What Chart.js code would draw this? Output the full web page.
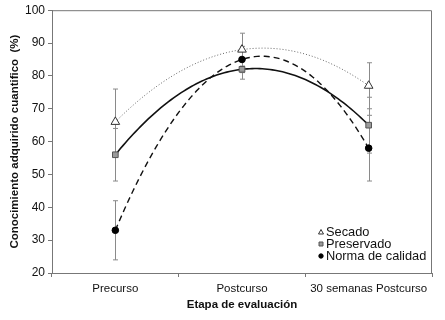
<!DOCTYPE html>
<html>
<head>
<meta charset="utf-8">
<script src="https://cdn.jsdelivr.net/npm/chart.js@4.4.1/dist/chart.umd.min.js"></script>
<style>
  html, body { margin: 0; padding: 0; background: #fff; }
  #wrap { width: 445px; height: 320px; }
</style>
</head>
<body>
<div id="wrap"><canvas id="chart" width="445" height="320"></canvas></div>
<script>
// Etapas y valores
const categories = ['Precurso', 'Postcurso', '30 semanas Postcurso'];
const yTicks = [20, 30, 40, 50, 60, 70, 80, 90, 100];

const secado = [66, 88, 77];
const secadoErr = [10, 5, 7];
const preservado = [56, 82, 65];
const preservadoErr = [8, 3, 8.5];
const norma = [33, 85, 58];
const normaErr = [9, 4, 10];

const FONT = '"Liberation Sans", Arial, sans-serif';

// error bars + quadratic trend lines through the three points
const extrasPlugin = {
    id: 'extras',
    beforeDatasetsDraw(chart) {
        const ctx = chart.ctx;
        const x = chart.scales.x;
        const y = chart.scales.y;
        ctx.save();

        // error bars
        ctx.strokeStyle = '#8a8a8a';
        ctx.lineWidth = 1;
        chart.data.datasets.forEach(ds => {
            ds.data.forEach((v, i) => {
                const e = ds.errors[i];
                const px = Math.round(x.getPixelForValue(i)) + 0.5;
                const top = y.getPixelForValue(v + e);
                const bot = y.getPixelForValue(v - e);
                ctx.beginPath();
                ctx.moveTo(px, top);
                ctx.lineTo(px, bot);
                ctx.moveTo(px - 2.5, top);
                ctx.lineTo(px + 2.5, top);
                ctx.moveTo(px - 2.5, bot);
                ctx.lineTo(px + 2.5, bot);
                ctx.stroke();
            });
        });

        // trend lines
        chart.data.datasets.forEach(ds => {
            const [a, b, c] = ds.data;
            const f = t => a * (t - 1) * (t - 2) / 2 - b * t * (t - 2) + c * t * (t - 1) / 2;
            ctx.strokeStyle = ds.trendColor;
            ctx.lineWidth = ds.trendWidth;
            ctx.setLineDash(ds.trendDash);
            ctx.beginPath();
            for (let k = 0; k <= 100; k++) {
                const t = k * 2 / 100;
                const px = x.getPixelForValue(t);
                const py = y.getPixelForValue(f(t));
                if (k === 0) ctx.moveTo(px, py); else ctx.lineTo(px, py);
            }
            ctx.stroke();
        });
        ctx.setLineDash([]);
        ctx.restore();
    },
    afterDraw(chart) {
        const ctx = chart.ctx;
        const area = chart.chartArea;
        ctx.save();
        // top and right frame
        ctx.strokeStyle = '#777';
        ctx.lineWidth = 1;
        ctx.beginPath();
        ctx.moveTo(area.left, area.top + 0.5);
        ctx.lineTo(area.right - 0.5, area.top + 0.5);
        ctx.lineTo(area.right - 0.5, area.bottom);
        ctx.stroke();

        // legend inside the plot
        let ly = 232;
        const lx = 321;
        ctx.font = '12.8px ' + FONT;
        ctx.textBaseline = 'middle';
        chart.data.datasets.forEach(ds => {
            ctx.fillStyle = ds.backgroundColor;
            ctx.strokeStyle = ds.borderColor;
            ctx.lineWidth = 1;
            ctx.beginPath();
            if (ds.pointStyle === 'triangle') {
                ctx.moveTo(lx, ly - 2.5);
                ctx.lineTo(lx + 2.5, ly + 2);
                ctx.lineTo(lx - 2.5, ly + 2);
                ctx.closePath();
            } else if (ds.pointStyle === 'rect') {
                ctx.rect(lx - 2, ly - 2, 4, 4);
            } else {
                ctx.arc(lx, ly, 2.2, 0, Math.PI * 2);
            }
            ctx.fill();
            ctx.stroke();
            ctx.fillStyle = '#111';
            ctx.fillText(ds.label, lx + 5, ly + 0.5);
            ly += 12;
        });
        ctx.restore();
    }
};

new Chart(document.getElementById('chart'), {
    type: 'line',
    data: {
        labels: categories,
        datasets: [
            {
                label: 'Secado',
                data: secado,
                errors: secadoErr,
                showLine: false,
                pointStyle: 'triangle',
                pointRadius: 5,
                backgroundColor: '#ffffff',
                borderColor: '#333333',
                borderWidth: 1,
                trendColor: '#666666',
                trendWidth: 1,
                trendDash: [1, 2]
            },
            {
                label: 'Preservado',
                data: preservado,
                errors: preservadoErr,
                showLine: false,
                pointStyle: 'rect',
                pointRadius: 4,
                backgroundColor: '#9a9a9a',
                borderColor: '#555555',
                borderWidth: 1,
                trendColor: '#111111',
                trendWidth: 1.6,
                trendDash: []
            },
            {
                label: 'Norma de calidad',
                data: norma,
                errors: normaErr,
                showLine: false,
                pointStyle: 'circle',
                pointRadius: 3.3,
                backgroundColor: '#000000',
                borderColor: '#000000',
                borderWidth: 1,
                trendColor: '#111111',
                trendWidth: 1.4,
                trendDash: [6, 4]
            }
        ]
    },
    options: {
        responsive: false,
        animation: false,
        layout: { padding: { top: 10, right: 13, left: 0, bottom: 0 } },
        plugins: {
            legend: { display: false },
            tooltip: { enabled: false }
        },
        scales: {
            x: {
                type: 'category',
                offset: true,
                grid: {
                    offset: true,
                    drawOnChartArea: false,
                    drawTicks: true,
                    tickLength: 4,
                    color: '#777'
                },
                border: { color: '#777', width: 1 },
                ticks: {
                    color: '#111',
                    font: { family: FONT, size: 11.5 },
                    padding: 5,
                    maxRotation: 0
                },
                title: {
                    display: true,
                    text: 'Etapa de evaluación',
                    color: '#111',
                    font: { family: FONT, size: 11.5, weight: 'bold' },
                    padding: { top: 4, bottom: 8 }
                },
                afterFit(scale) { scale.height = 47; }
            },
            y: {
                min: 20,
                max: 100,
                afterBuildTicks(scale) { scale.ticks = yTicks.map(v => ({ value: v })); },
                grid: {
                    drawOnChartArea: false,
                    drawTicks: true,
                    tickLength: 4,
                    color: '#777'
                },
                border: { color: '#777', width: 1 },
                ticks: {
                    color: '#111',
                    font: { family: FONT, size: 12 },
                    padding: 3
                },
                title: {
                    display: true,
                    text: 'Conocimiento adquirido cuantifico  (%)',
                    color: '#111',
                    font: { family: FONT, size: 11.5, weight: 'bold' },
                    padding: { top: 8, bottom: 0 }
                },
                afterFit(scale) { scale.width = 52; }
            }
        }
    },
    plugins: [extrasPlugin]
});
</script>
</body>
</html>
